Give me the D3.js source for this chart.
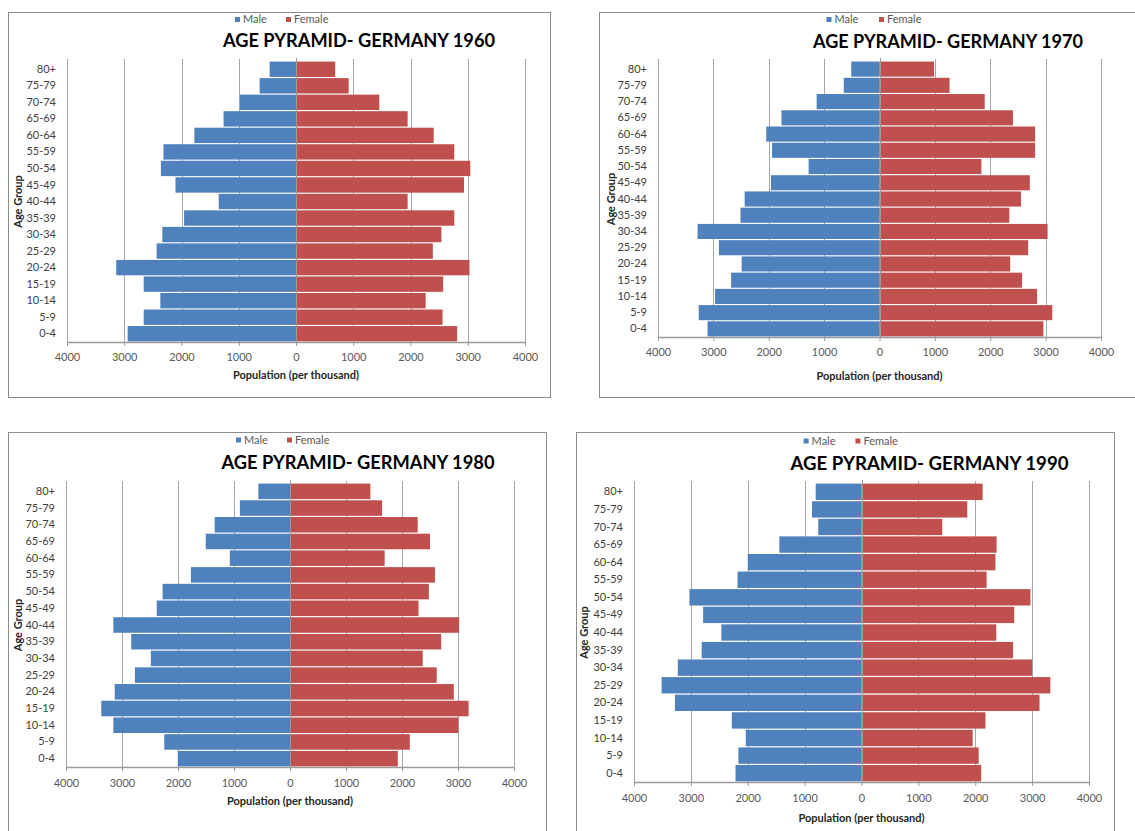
<!DOCTYPE html>
<html>
<head>
<meta charset="utf-8">
<script src="https://d3js.org/d3.v7.min.js"></script>
<style>
  html, body { margin: 0; padding: 0; background: #ffffff; }
  svg { display: block; }
  text { font-family: Lato, "Open Sans", "Liberation Sans", sans-serif; }
</style>
</head>
<body>
<svg id="chart" width="1135" height="831"></svg>
<script>
// ---------------- DATA ----------------
const ageGroups = ["0-4","5-9","10-14","15-19","20-24","25-29","30-34","35-39","40-44","45-49","50-54","55-59","60-64","65-69","70-74","75-79","80+"];
const xTickValues = [-4000,-3000,-2000,-1000,0,1000,2000,3000,4000];
const seriesNames = ["Male","Female"];
const years = [1960, 1970, 1980, 1990];

const male1960   = [2940,2660,2370,2660,3140,2435,2335,1955,1350,2105,2360,2315,1775,1265,980,635,460];
const female1960 = [2815,2560,2265,2570,3030,2390,2540,2765,1950,2935,3045,2765,2405,1950,1455,920,685];

const male1970   = [3105,3265,2970,2680,2490,2900,3285,2510,2435,1960,1280,1940,2045,1770,1135,645,510];
const female1970 = [2960,3120,2845,2575,2360,2685,3035,2345,2555,2715,1840,2810,2810,2410,1900,1265,985];

const male1980   = [2005,2245,3155,3370,3130,2770,2485,2835,3155,2380,2275,1770,1075,1505,1345,895,565];
const female1980 = [1925,2140,3005,3190,2925,2620,2370,2700,3020,2295,2480,2590,1690,2500,2280,1645,1435];

const male1990   = [2215,2165,2035,2280,3280,3515,3230,2810,2465,2785,3025,2180,2000,1445,760,870,805];
const female1990 = [2105,2060,1955,2180,3130,3320,3000,2665,2370,2685,2970,2200,2355,2375,1420,1860,2130];

const maleByYear = [male1960, male1970, male1980, male1990];
const femaleByYear = [female1960, female1970, female1980, female1990];

// ---------------- LAYOUT ----------------
const panels = [
  { box:{l:8,t:12,r:550,b:397}, plot:{l:67,r:525,t:61,b:342},
    title:{cx:359,by:47,w:272}, legend:{m:235,f:286,y:19.5}, tickY:357, axisTitleY:375, ageX:18 },
  { box:{l:599,t:12,r:1145,b:397}, plot:{l:658,r:1101,t:61,b:337},
    title:{cx:948,by:48,w:270}, legend:{m:826.5,f:879,y:19.5}, tickY:352, axisTitleY:376, ageX:611 },
  { box:{l:8,t:432,r:546,b:845}, plot:{l:66,r:514,t:483,b:767},
    title:{cx:358,by:469,w:273}, legend:{m:236,f:287,y:440}, tickY:783, axisTitleY:801, ageX:18 },
  { box:{l:576,t:432,r:1114,b:845}, plot:{l:634,r:1089,t:483,b:782},
    title:{cx:929.5,by:470,w:278}, legend:{m:803.6,f:855.4,y:441}, tickY:798, axisTitleY:818, ageX:584.5 }
];

const maleColor = "#4f81bd";
const femaleColor = "#c0504d";
const gridColor = "#a6a6a6";
const axisColor = "#9a9a9a";

const svg = d3.select("#chart");
svg.append("rect").attr("width",1135).attr("height",831).attr("fill","#fff");

panels.forEach((p, i) => {
  const g = svg.append("g");
  const male = maleByYear[i];
  const female = femaleByYear[i];

  // border
  g.append("rect")
    .attr("x", p.box.l + 0.5).attr("y", p.box.t + 0.5)
    .attr("width", p.box.r - p.box.l).attr("height", p.box.b - p.box.t)
    .attr("fill", "#fff").attr("stroke", "#8c8c8c").attr("stroke-width", 1);

  const x = d3.scaleLinear().domain([-4000, 4000]).range([p.plot.l, p.plot.r]);
  const y = d3.scaleBand().domain(ageGroups.slice().reverse())
    .range([p.plot.t, p.plot.b]).paddingInner(0.07).paddingOuter(0.035);

  // gridlines
  g.append("g").selectAll("line").data(xTickValues.filter(v => v !== 0)).join("line")
    .attr("x1", d => Math.round(x(d)) + 0.5).attr("x2", d => Math.round(x(d)) + 0.5)
    .attr("y1", p.plot.t - 2).attr("y2", p.plot.b)
    .attr("stroke", gridColor).attr("stroke-width", 1);

  // bars
  const rows = ageGroups.map((a, k) => ({ age: a, m: male[k], f: female[k] }));
  g.append("g").selectAll("rect").data(rows).join("rect")
    .attr("x", d => x(-d.m)).attr("width", d => x(0) - x(-d.m))
    .attr("y", d => y(d.age)).attr("height", y.bandwidth())
    .attr("fill", maleColor);
  g.append("g").selectAll("rect").data(rows).join("rect")
    .attr("x", x(0)).attr("width", d => x(d.f) - x(0))
    .attr("y", d => y(d.age)).attr("height", y.bandwidth())
    .attr("fill", femaleColor);

  // zero (category) axis line
  g.append("line")
    .attr("x1", Math.round(x(0)) + 0.5).attr("x2", Math.round(x(0)) + 0.5)
    .attr("y1", p.plot.t - 3).attr("y2", p.plot.b)
    .attr("stroke", axisColor).attr("stroke-width", 1);

  // bottom axis
  const xAxis = d3.axisBottom(x).tickValues(xTickValues)
    .tickFormat(d => String(Math.abs(d))).tickSize(4).tickPadding(6);
  const ax = g.append("g").attr("transform", `translate(0,${p.plot.b})`).call(xAxis);
  ax.select(".domain").attr("stroke", axisColor).attr("stroke-width", 1.5)
    .attr("d", `M${p.plot.l},0.5H${p.plot.r}`);
  ax.selectAll(".tick line").attr("stroke", axisColor);
  ax.selectAll(".tick text")
    .attr("y", p.tickY - p.plot.b).attr("dy", "0.35em")
    .attr("fill", "#595959").style("font-size", "11px")
    .style("font-family", "Lato, 'Open Sans', sans-serif");

  // category labels
  const yAxis = d3.axisLeft(y).tickSize(0).tickPadding(0);
  const ay = g.append("g").attr("transform", `translate(${p.plot.l - 11},0)`).call(yAxis);
  ay.select(".domain").remove();
  ay.selectAll(".tick text").attr("fill", "#404040").style("font-size", "11px")
    .style("font-family", "Lato, 'Open Sans', sans-serif");

  // axis titles
  g.append("text")
    .attr("x", x(0)).attr("y", p.axisTitleY).attr("dy", "0.35em")
    .attr("text-anchor", "middle").attr("fill", "#262626")
    .style("font-size", "11px").style("font-weight", "bold")
    .text("Population (per thousand)");
  g.append("text")
    .attr("transform", `translate(${p.ageX},${(p.plot.t + p.plot.b) / 2}) rotate(-90)`)
    .attr("dy", "0.35em").attr("text-anchor", "middle").attr("fill", "#262626")
    .style("font-size", "11px").style("font-weight", "bold")
    .text("Age Group");

  // title
  g.append("text")
    .attr("x", p.title.cx).attr("y", p.title.by)
    .attr("text-anchor", "middle").attr("fill", "#000")
    .attr("textLength", p.title.w).attr("lengthAdjust", "spacingAndGlyphs")
    .style("font-size", "19px").style("font-weight", "bold")
    .text(`AGE PYRAMID- GERMANY ${years[i]}`);

  // legend
  const leg = [{ name: seriesNames[0], x: p.legend.m, c: maleColor },
               { name: seriesNames[1], x: p.legend.f, c: femaleColor }];
  const lg = g.append("g").selectAll("g").data(leg).join("g");
  lg.append("rect").attr("x", d => d.x).attr("y", p.legend.y - 2.5)
    .attr("width", 5).attr("height", 5).attr("fill", d => d.c);
  lg.append("text").attr("x", d => d.x + 8).attr("y", p.legend.y).attr("dy", "0.35em")
    .attr("fill", "#595959").style("font-size", "11px").text(d => d.name);
});
</script>
</body>
</html>
